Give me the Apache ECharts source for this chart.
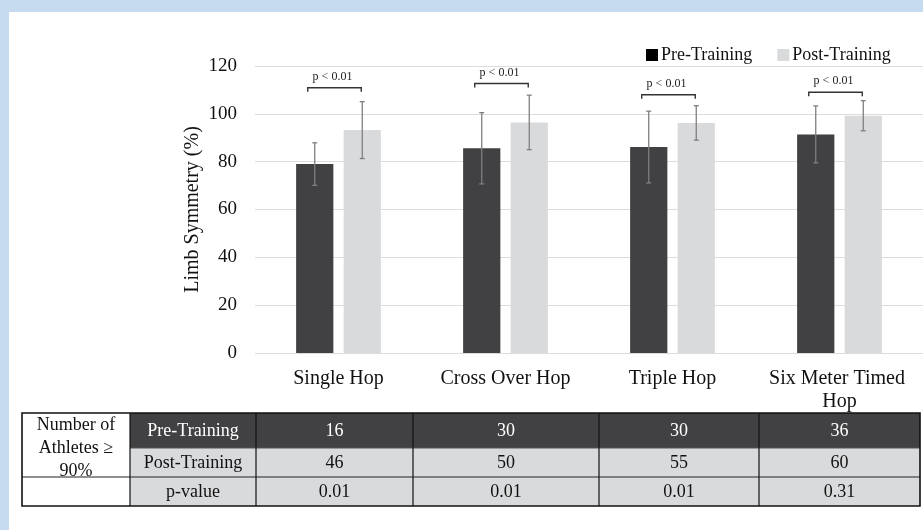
<!DOCTYPE html>
<html>
<head>
<meta charset="utf-8">
<script src="https://cdn.jsdelivr.net/npm/echarts@6/dist/echarts.min.js"></script>
<style>
  html, body { margin: 0; padding: 0; background: #ffffff; }
  #chart { width: 923px; height: 530px; }
</style>
</head>
<body>
<div id="chart"></div>
<script>
// Hop test categories
const categories = ['Single Hop', 'Cross Over Hop', 'Triple Hop', 'Six Meter Timed Hop'];
// Mean limb symmetry (%) and standard deviations
const preMeans = [79.0, 85.6, 86.1, 91.4];
const postMeans = [93.2, 96.4, 96.2, 99.2];
const preSD = [8.9, 14.9, 15.0, 11.9];
const postSD = [11.9, 11.4, 7.2, 6.3];
// Significance brackets: height (in % units) and text
const sigLevels = [110.9, 112.7, 108.0, 109.0];
const sigLabels = ['p < 0.01', 'p < 0.01', 'p < 0.01', 'p < 0.01'];
// Y axis ticks
const yMin = 0, yMax = 120, yStep = 20;
// Table below the chart
const tableTitle = 'Number of\nAthletes \u2265\n90%';
const tableRowLabels = ['Pre-Training', 'Post-Training', 'p-value'];
const preCounts = [16, 30, 30, 36];
const postCounts = [46, 50, 55, 60];
const pValues = ['0.01', '0.01', '0.01', '0.31'];

const FONT = "'Liberation Serif', 'Times New Roman', serif";
const DARK = '#414143';
const LIGHT = '#d9dadc';
const BAR_W = 0.223;   // bar width as a share of the category band
const BAR_GAP = 0.276; // gap between paired bars, relative to bar width

function barOffset(api) {
  const band = api.size([1, 0])[0];
  const bw = band * BAR_W;
  return bw * (1 + BAR_GAP) / 2;
}

function errorRenderer(sign) {
  return function (params, api) {
    const off = barOffset(api) * sign;
    const top = api.coord([api.value(0), api.value(2)]);
    const bot = api.coord([api.value(0), api.value(1)]);
    const x = top[0] + off;
    const cap = 2.5;
    const style = { stroke: '#7f7f7f', lineWidth: 1.3 };
    return {
      type: 'group',
      children: [
        { type: 'line', shape: { x1: x, y1: top[1], x2: x, y2: bot[1] }, style },
        { type: 'line', shape: { x1: x - cap, y1: top[1], x2: x + cap, y2: top[1] }, style },
        { type: 'line', shape: { x1: x - cap, y1: bot[1], x2: x + cap, y2: bot[1] }, style }
      ]
    };
  };
}

function bracketRenderer(params, api) {
  const off = barOffset(api);
  const p = api.coord([api.value(0), api.value(1)]);
  const x1 = p[0] - off - 7;
  const x2 = p[0] + off - 1;
  const y = p[1];
  return {
    type: 'group',
    children: [
      {
        type: 'polyline',
        shape: { points: [[x1, y + 4], [x1, y], [x2, y], [x2, y + 4]] },
        style: { stroke: '#333333', lineWidth: 1.4, fill: null }
      },
      {
        type: 'text',
        style: {
          x: (x1 + x2) / 2 - 2, y: y - 11,
          text: sigLabels[params.dataIndex],
          font: '12px ' + FONT, fill: '#222', align: 'center', verticalAlign: 'middle'
        }
      }
    ]
  };
}

// Table drawn as graphic elements
function buildTable() {
  const cols = [22, 130, 256, 413, 599, 759, 920];
  const rows = [413, 448, 477, 506];
  const els = [];
  const cellText = (x0, x1, y0, y1, text, color) => ({
    type: 'text',
    style: {
      x: (x0 + x1) / 2, y: (y0 + y1) / 2 + 1, text: String(text),
      font: '18px ' + FONT, fill: color, align: 'center', verticalAlign: 'middle'
    }
  });
  // backgrounds
  els.push({ type: 'rect', shape: { x: cols[0], y: rows[0], width: cols[6] - cols[0], height: rows[3] - rows[0] }, style: { fill: '#fff' } });
  els.push({ type: 'rect', shape: { x: cols[1], y: rows[0], width: cols[6] - cols[1], height: rows[1] - rows[0] }, style: { fill: DARK } });
  els.push({ type: 'rect', shape: { x: cols[1], y: rows[1], width: cols[6] - cols[1], height: rows[3] - rows[1] }, style: { fill: LIGHT } });
  // inner lines
  els.push({ type: 'line', shape: { x1: cols[0], y1: rows[2], x2: cols[6], y2: rows[2] }, style: { stroke: '#222', lineWidth: 1.2 } });
  els.push({ type: 'line', shape: { x1: cols[1], y1: rows[1], x2: cols[6], y2: rows[1] }, style: { stroke: '#555', lineWidth: 1 } });
  for (let c = 1; c < 6; c++) {
    els.push({ type: 'line', shape: { x1: cols[c], y1: rows[0], x2: cols[c], y2: rows[3] }, style: { stroke: '#111', lineWidth: 1.2 } });
  }
  // outer border
  els.push({ type: 'rect', shape: { x: cols[0], y: rows[0], width: cols[6] - cols[0], height: rows[3] - rows[0] }, style: { fill: null, stroke: '#111', lineWidth: 1.6 } });
  // title cell
  els.push({
    type: 'text',
    style: {
      x: (cols[0] + cols[1]) / 2, y: (rows[0] + rows[2]) / 2 + 3, text: tableTitle,
      font: '18px ' + FONT, fill: '#111', align: 'center', verticalAlign: 'middle', lineHeight: 23
    }
  });
  const rowValues = [preCounts, postCounts, pValues];
  for (let r = 0; r < 3; r++) {
    const color = r === 0 ? '#ffffff' : '#111111';
    els.push(cellText(cols[1], cols[2], rows[r], rows[r + 1], tableRowLabels[r], color));
    for (let c = 0; c < 4; c++) {
      els.push(cellText(cols[c + 2], cols[c + 3], rows[r], rows[r + 1], rowValues[r][c], color));
    }
  }
  return els;
}

const chart = echarts.init(document.getElementById('chart'), null, { renderer: 'canvas' });

chart.setOption({
  backgroundColor: '#ffffff',
  animation: false,
  textStyle: { fontFamily: FONT },
  graphic: [
    { type: 'rect', z: -10, silent: true, shape: { x: 0, y: 0, width: 923, height: 12 }, style: { fill: '#c6dbf0' } },
    { type: 'rect', z: -10, silent: true, shape: { x: 0, y: 0, width: 9, height: 530 }, style: { fill: '#c6dbf0' } },
    { type: 'group', silent: true, children: buildTable() }
  ],
  legend: {
    left: 641, top: 41,
    itemWidth: 12, itemHeight: 12, itemGap: 25,
    icon: 'rect',
    textStyle: { fontFamily: FONT, fontSize: 18, color: '#111', padding: [0, 0, 0, -2] },
    data: [
      { name: 'Pre-Training', itemStyle: { color: '#000000' } },
      { name: 'Post-Training', itemStyle: { color: LIGHT } }
    ]
  },
  grid: { left: 255, right: 0, top: 66, bottom: 177 },
  xAxis: {
    type: 'category',
    data: categories,
    axisLine: { show: false },
    axisTick: { show: false },
    axisLabel: {
      fontFamily: FONT, fontSize: 20, color: '#111', margin: 14,
      width: 160, overflow: 'break', lineHeight: 23, interval: 0
    }
  },
  yAxis: {
    type: 'value',
    min: yMin, max: yMax, interval: yStep,
    name: 'Limb Symmetry (%)',
    nameLocation: 'middle',
    nameMoveOverlap: false,
    nameGap: 52,
    nameTextStyle: { fontFamily: FONT, fontSize: 20, color: '#111' },
    axisLine: { show: false },
    axisTick: { show: false },
    axisLabel: { fontFamily: FONT, fontSize: 19, color: '#111', margin: 18 },
    splitLine: { lineStyle: { color: '#dcdcdc', width: 1 } }
  },
  series: [
    {
      name: 'Pre-Training', type: 'bar', data: preMeans,
      barWidth: (BAR_W * 100) + '%', barGap: (BAR_GAP * 100) + '%',
      itemStyle: { color: DARK }
    },
    {
      name: 'Post-Training', type: 'bar', data: postMeans,
      barWidth: (BAR_W * 100) + '%', barGap: (BAR_GAP * 100) + '%',
      itemStyle: { color: LIGHT }
    },
    {
      type: 'custom', name: 'pre-error', z: 5,
      renderItem: errorRenderer(-1),
      encode: { x: 0, y: [1, 2] },
      data: categories.map((c, i) => [i, preMeans[i] - preSD[i], preMeans[i] + preSD[i]])
    },
    {
      type: 'custom', name: 'post-error', z: 5,
      renderItem: errorRenderer(1),
      encode: { x: 0, y: [1, 2] },
      data: categories.map((c, i) => [i, postMeans[i] - postSD[i], postMeans[i] + postSD[i]])
    },
    {
      type: 'custom', name: 'significance', z: 5,
      renderItem: bracketRenderer,
      encode: { x: 0, y: 1 },
      data: categories.map((c, i) => [i, sigLevels[i]])
    }
  ]
});
</script>
</body>
</html>
